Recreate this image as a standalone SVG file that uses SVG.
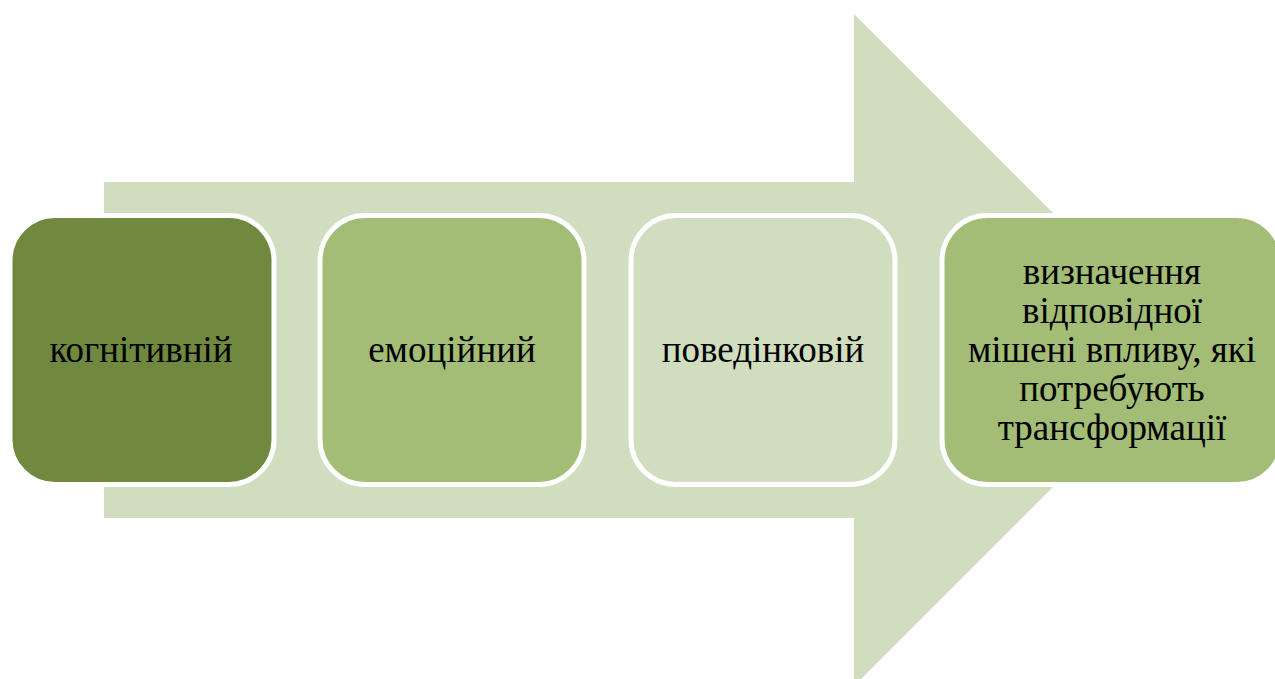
<svg xmlns="http://www.w3.org/2000/svg" width="1275" height="679" viewBox="0 0 1275 679">
<style>
.box{stroke:#FFFFFF;stroke-width:5}
.t{font-family:"Liberation Serif","Times New Roman",serif;font-size:37px;fill:#000;text-anchor:middle}
</style>
<rect width="1275" height="679" fill="#FFFFFF"/>
<g id="connectors">
<path id="arrow" d="M104,182 H854 V14 L1190,350 L854,686 V518 H104 Z" fill="#D0DDBF"/>
</g>
<g id="node1">
<rect class="box" x="10" y="215.5" width="264" height="269" rx="45" fill="#71893F"/>
<text class="t" x="141" y="362">когнітивній</text>
</g>
<g id="node2">
<rect class="box" x="320" y="215.5" width="264" height="269" rx="45" fill="#A3BC76"/>
<text class="t" x="452" y="362">емоційний</text>
</g>
<g id="node3">
<rect class="box" x="631" y="215.5" width="264" height="269" rx="45" fill="#D0DDBF"/>
<text class="t" x="763" y="362">поведінковій</text>
</g>
<g id="node4">
<rect class="box" x="942" y="215.5" width="340" height="269" rx="45" fill="#A3BC76"/>
<text class="t" x="1112" y="284">визначення</text>
<text class="t" x="1112" y="323">відповідної</text>
<text class="t" x="1112" y="362">мішені впливу, які</text>
<text class="t" x="1112" y="401">потребують</text>
<text class="t" x="1112" y="440">трансформації</text>
</g>
</svg>
